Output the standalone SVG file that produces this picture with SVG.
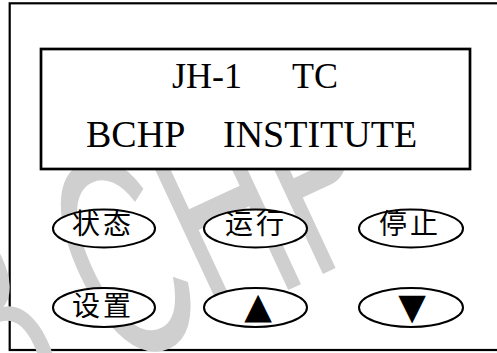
<svg xmlns="http://www.w3.org/2000/svg" width="497" height="353" viewBox="0 0 497 353">
<style>
.frame{fill:#fff;stroke:#000;stroke-width:2.2}
.lcd{fill:#fff;stroke:#000;stroke-width:2.7}
.key{fill:#fff;stroke:#000;stroke-width:2}
.lcdtxt{font-family:"Liberation Serif","Times New Roman",serif;fill:#000}
.cn{font-family:"Noto Sans CJK SC",sans-serif;font-size:28px;fill:#000;text-anchor:middle;letter-spacing:3px}
.sym{font-family:"DejaVu Sans",sans-serif;font-size:36px;fill:#000;text-anchor:middle}
.wm{font-family:"Liberation Sans",Arial,sans-serif;font-size:200px;fill:#cfcfcf}
</style>
<rect width="497" height="353" fill="#fff"/>
<rect class="frame" x="9.7" y="3.3" width="500" height="346.7"/>
<g id="watermark">
<text class="wm" transform="translate(29,411) rotate(-25) scale(0.75,1.45)" x="-61 128 272 416" y="0">BCHP</text>
</g>
<g id="lcd">
<rect class="lcd" x="41" y="49" width="429" height="120"/>
<text class="lcdtxt" font-size="36" y="88"><tspan x="172">JH-1</tspan><tspan x="292">TC</tspan></text>
<text class="lcdtxt" font-size="38" y="147"><tspan x="86">BCHP</tspan><tspan x="223">INSTITUTE</tspan></text>
</g>
<g id="key-status">
<ellipse class="key" cx="104" cy="228.5" rx="51" ry="19"/>
<text class="cn" x="103" y="234">状态</text>
</g>
<g id="key-run">
<ellipse class="key" cx="255.5" cy="228.5" rx="51.5" ry="19"/>
<text class="cn" x="256" y="234">运行</text>
</g>
<g id="key-stop">
<ellipse class="key" cx="411" cy="228.5" rx="52" ry="19"/>
<text class="cn" x="410" y="234">停止</text>
</g>
<g id="key-set">
<ellipse class="key" cx="104" cy="307.5" rx="51" ry="19.5"/>
<text class="cn" x="103" y="316">设置</text>
</g>
<g id="key-up">
<ellipse class="key" cx="255.5" cy="307.5" rx="51.5" ry="19.5"/>
<text class="sym" x="258" y="318">▲</text>
</g>
<g id="key-down">
<ellipse class="key" cx="411" cy="307.5" rx="52" ry="19.5"/>
<text class="sym" x="412" y="319">▼</text>
</g>
<g id="connectors"/>
</svg>
